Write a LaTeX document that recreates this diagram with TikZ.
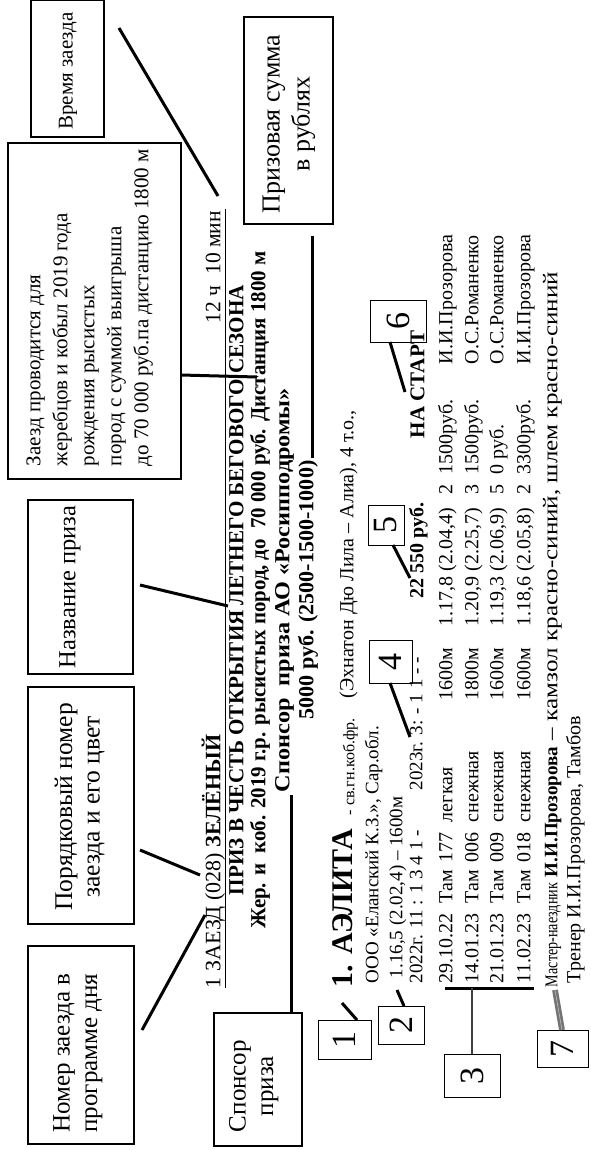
\documentclass[tikz,border=0pt]{standalone}
\usepackage{fontspec}
\setmainfont{Liberation Serif}
\usepackage{graphicx}
\newcommand{\fitw}[2]{\resizebox{#1pt}{\height}{#2}}
\newcommand{\fs}[1]{\fontsize{#1}{#1}\selectfont}
\tikzset{
  ln/.style={rotate=90, anchor=mid west, inner sep=0pt, outer sep=0pt},
  lnr/.style={rotate=90, anchor=mid east, inner sep=0pt, outer sep=0pt},
  lnc/.style={rotate=90, anchor=mid, inner sep=0pt, outer sep=0pt},
  ctext/.style={rotate=90, inner sep=0pt},
  rw/.style={ln, font=\fs{20}},
  abox/.style={draw, line width=1.5pt, inner sep=0pt},
  nbox/.style={draw, line width=1pt, rotate=90, inner sep=0pt, font=\fs{34}},
  conn/.style={line width=3pt},
  thinconn/.style={line width=1.6pt, draw=black!75},
}
\newcommand\rowline[9]{%
  \node[rw] (r#1a) at (#1,983) {#2};
  \node[rw] (r#1b) at (#1,903) {Там};
  \node[rw] (r#1c) at (#1,862) {#3};
  \node[rw] (r#1d) at (#1,822) {#4};
  \node[rw] (r#1e) at (#1,700) {#5};
  \node[rw] (r#1f) at (#1,626) {#6};
  \node[rw] (r#1g) at (#1,494) {#7};
  \node[rw] (r#1h) at (#1,474) {#8};
  \node[rw] (r#1i) at (#1,364) {#9};
}
\begin{document}
\begin{tikzpicture}[x=1pt,y=-1pt]
\path[use as bounding box, fill=white] (0,0) rectangle (590,1150);

% ---------- annotation boxes ----------
\node[abox, minimum width=73pt, minimum height=137pt] (bvrem) at (67.5,68.5) {};
\node[ctext, font=\fs{21}] (tvrem) at (68,71) {Время заезда};

\node[abox, minimum width=173pt, minimum height=336pt] (bbig) at (94.5,311) {};
\node[ln, font=\fs{21}] (tbig1) at (38,466) {Заезд проводится для};
\node[ln, font=\fs{21}] (tbig2) at (65,466) {жеребцов и кобыл 2019 года};
\node[ln, font=\fs{21}] (tbig3) at (92,466) {рождения рысистых};
\node[ln, font=\fs{21}] (tbig4) at (119,466) {пород с суммой выигрыша};
\node[ln, font=\fs{21}] (tbig5) at (146,466) {до 70 000 руб.па дистанцию 1800 м};

\node[abox, minimum width=89pt, minimum height=207pt] (bpriz) at (288.5,120.5) {};
\node[ctext, font=\fs{26}] (tpriz1) at (274,124) {Призовая сумма};
\node[ctext, font=\fs{26}] (tpriz2) at (303,124) {в рублях};

\node[abox, minimum width=105pt, minimum height=174pt] (bnazv) at (80.5,587) {};
\node[ctext, font=\fs{24.5}] (tnazv) at (70,587) {Название приза};

\node[abox, minimum width=106pt, minimum height=237pt] (bpor) at (81,805.5) {};
\node[ctext, font=\fs{25.5}] (tpor1) at (66,807) {Порядковый номер};
\node[ctext, font=\fs{25.5}] (tpor2) at (96,807) {заезда и его цвет};

\node[abox, minimum width=106pt, minimum height=198pt] (bnom) at (81,1045) {};
\node[ctext, font=\fs{25}] (tnom1) at (64,1053) {Номер заезда в};
\node[ctext, font=\fs{25}] (tnom2) at (94,1053) {программе дня};

\node[abox, minimum width=88pt, minimum height=133pt] (bspon) at (258,1079.5) {};
\node[ctext, font=\fs{25}] (tspon1) at (240,1086) {Спонсор};
\node[ctext, font=\fs{25}] (tspon2) at (270,1086) {приза};

% ---------- header ----------
\node[ln, font=\fs{22}] (l1a) at (218,988) {1 ЗАЕЗД (028) \textbf{ЗЕЛЁНЫЙ}};
\node[lnr, font=\fs{22}] (l1b) at (218,211) {\fitw{112}{12 ч\ \ 10 мин}};
\coordinate (u1) at (225,988);
\coordinate (u2) at (225,209);
\draw[line width=1pt] (u1) -- (u2);
\node[lnc, font=\fs{21.5}\bfseries] (l2) at (241,590) {\fitw{610}{ПРИЗ В ЧЕСТЬ ОТКРЫТИЯ ЛЕТНЕГО БЕГОВОГО СЕЗОНА}};
\node[lnc, font=\fs{21.5}\bfseries] (l3) at (263,590) {\fitw{677}{Жер. и\ \ коб. 2019 г.р. рысистых пород, до\ \ 70 000 руб. Дистанция 1800 м}};
\node[lnc, font=\fs{21.5}\bfseries] (l4) at (287,590) {\fitw{404}{Спонсор\ \ приза АО «Росипподромы»}};
\node[lnc, font=\fs{21.5}\bfseries] (l5) at (311,590) {\fitw{259}{5000 руб. (2500-1500-1000)}};

% ---------- horse ----------
\node[ln, font=\fs{30}\bfseries] (l6a) at (350,987) {1. АЭЛИТА};
\node[ln, font=\fs{16}] (l6b) at (352,815) {- св.гн.коб.фр.};
\node[ln, font=\fs{20}] (l6c) at (351,698) {(Эхнатон Дю Лила -- Алиа), 4 т.о.,};
\node[ln, font=\fs{19}] (l7) at (376,983) {ООО «Еланский К.З.», Сар.обл.};
\node[ln, font=\fs{19}] (l8) at (400,978) {1.16,5 (2.02,4) -- 1600м};
\node[ln, font=\fs{19}] (l9a) at (420,983) {2022г. 11 : 1 3 4 1 -};
\node[ln, font=\fs{19}] (l9b) at (420,790) {2023г. 3: - 1 1 - -};
\node[ln, font=\fs{20}\bfseries] (l9c) at (421,598) {22 550 руб.};
\node[ln, font=\fs{21}\bfseries] (nast) at (422,438) {НА СТАРТ};

\rowline{450}{29.10.22}{177}{легкая}{1600м}{1.17,8 (2.04,4)}{2}{1500руб.}{И.И.Прозорова}
\rowline{476}{14.01.23}{006}{снежная}{1800м}{1.20,9 (2.25,7)}{3}{1500руб.}{О.С.Романенко}
\rowline{501}{21.01.23}{009}{снежная}{1600м}{1.19,3 (2.06,9)}{5}{0 руб.}{О.С.Романенко}
\rowline{528}{11.02.23}{018}{снежная}{1600м}{1.18,6 (2.05,8)}{2}{3300руб.}{И.И.Прозорова}

\node[ln, font=\fs{18}] (l14a) at (555,987) {\fitw{104}{Мастер-наездник}};
\node[ln, font=\fs{19}\bfseries] (l14b) at (555,877) {И.И.Прозорова};
\node[ln, font=\fs{21}] (l14c) at (555,740) {\fitw{468}{-- камзол красно-синий, шлем красно-синий}};
\node[ln, font=\fs{20}] (l15) at (578,983) {Тренер И.И.Прозорова, Тамбов};

% ---------- number boxes ----------
\node[nbox, minimum width=39pt, minimum height=53pt] (n1) at (344.5,1040) {1};
\node[nbox, minimum width=38pt, minimum height=46pt] (n2) at (401,1025) {2};
\node[nbox, minimum width=43pt, minimum height=56pt] (n3) at (472,1075.5) {3};
\node[nbox, minimum width=43pt, minimum height=43pt] (n4) at (390.5,661.5) {4};
\node[nbox, minimum width=40pt, minimum height=36pt] (n5) at (386,525) {5};
\node[nbox, minimum width=42pt, minimum height=56pt] (n6) at (398,321) {6};
\node[nbox, minimum width=37pt, minimum height=51pt] (n7) at (562.5,1048.5) {7};

% ---------- connectors ----------
\coordinate (cv1) at (119,28);   \coordinate (cv2) at (218,196);
\draw[conn] (cv1) -- (cv2);
\coordinate (cb1) at (181,375);  \coordinate (cb2) at (257,377);
\draw[conn] (cb1) -- (cb2);
\coordinate (cp1) at (312,236);  \coordinate (cp2) at (312,458);
\draw[conn] (cp1) -- (cp2);
\coordinate (cn1) at (140,585);  \coordinate (cn2) at (228,606);
\draw[conn] (cn1) -- (cn2);
\coordinate (co1) at (140,850);  \coordinate (co2) at (200,875);
\draw[conn] (co1) -- (co2);
\coordinate (cm1) at (142,1030); \coordinate (cm2) at (205,915);
\draw[conn] (cm1) -- (cm2);
\coordinate (cs1) at (291,1013); \coordinate (cs2) at (291,795);
\draw[conn] (cs1) -- (cs2);

\coordinate (k1a) at (357,1020); \coordinate (k1b) at (342,1003);
\draw[conn] (k1a) -- (k1b);
\coordinate (k2a) at (404,1006); \coordinate (k2b) at (397,990);
\draw[conn] (k2a) -- (k2b);
\coordinate (k3a) at (445,988);  \coordinate (k3b) at (534,988);
\draw[conn] (k3a) -- (k3b);
\coordinate (k3c) at (472,988);
\draw[thinconn] (k3c) -- (n3);
\coordinate (k4a) at (390,683);  \coordinate (k4b) at (410,737);
\draw[conn] (k4a) -- (k4b);
\coordinate (k5a) at (393,545);  \coordinate (k5b) at (410,578);
\draw[conn] (k5a) -- (k5b);
\coordinate (k6a) at (390,342);  \coordinate (k6b) at (405,392);
\draw[conn] (k6a) -- (k6b);
\coordinate (k7a) at (562,1030); \coordinate (k7b) at (555,990);
\draw[line width=2.6pt, draw=black!55, double=black!25, double distance=0.6pt] (k7a) -- (k7b);
\end{tikzpicture}
\end{document}
